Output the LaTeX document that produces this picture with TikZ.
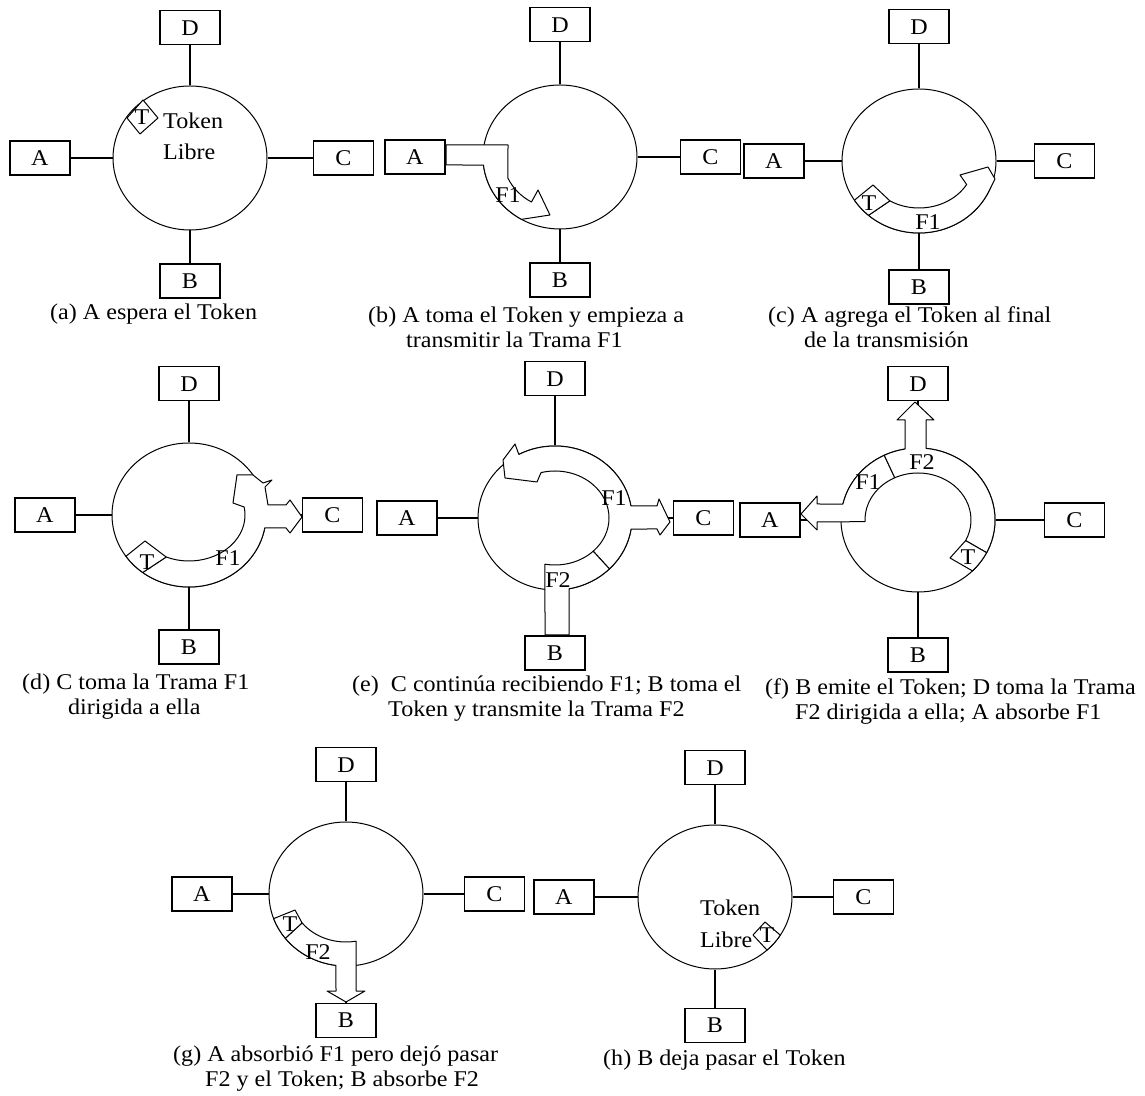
\documentclass[tikz,border=0pt]{standalone}
\usepackage{fontspec}
\setmainfont{Liberation Serif}[FakeStretch=1.07]
\usetikzlibrary{positioning, shapes.geometric}

\begin{document}
\begin{tikzpicture}[
    x=1pt, y=1pt,
    font=\fontsize{22.5}{25}\selectfont,
    ring/.style={ellipse, draw, line width=1pt, minimum width=154pt, minimum height=144pt, inner sep=0pt},
    station/.style={draw, line width=1.6pt, minimum width=60pt, minimum height=34pt, inner sep=0pt},
    link/.style={line width=1.6pt},
    frame/.style={draw, fill=white, line width=1pt, line join=round},
    token/.style={draw, fill=white, line width=1pt, line join=round},
    tag/.style={inner sep=0pt},
    caption/.style={anchor=west, align=left, inner sep=0pt}
]
\useasboundingbox (0,0) rectangle (1145,1095);

% -------------------------
% RINGS AND STATIONS
% -------------------------
\foreach \p/\x/\y/\dl/\dr/\du/\dd in {a/190/937/42/45/40/33, b/560/938/37/42/42/33,
    c/919/934/37/37/44/36, d/189/580/36/35/41/42, e/555/577/40/40/49/45,
    f/918/575/40/48/46/45, g/346/201/36/40/39/36, h/715/198/43/40/39/38}{
  \node[ring] (ring-\p) at (\x,\y) {};
  \node[station, left=\dl pt of ring-\p] (A-\p) {A};
  \node[station, right=\dr pt of ring-\p] (C-\p) {C};
  \node[station, above=\du pt of ring-\p] (D-\p) {D};
  \node[station, below=\dd pt of ring-\p] (B-\p) {B};
  \draw[link] (A-\p) -- (ring-\p) (C-\p) -- (ring-\p)
              (D-\p) -- (ring-\p) (B-\p) -- (ring-\p);
}

% -------------------------
% (a) free token
% -------------------------
\begin{scope}[shift={(ring-a.center)}]
\draw[token] (-47,58) -- (-32,40) -- (-50,24) -- (-63,40) -- cycle;
\node[tag] (T-a) at (-48,41) {T};
\node[tag, anchor=west, align=left, font=\fontsize{22.5}{31}\selectfont] (free-a) at (-27,22) {Token\\Libre};
\end{scope}

% -------------------------
% (b) A sends F1
% -------------------------
\begin{scope}[shift={(ring-b.center)}]
\draw[frame] (-114,12) -- (-52,12) -- (204:57pt and 52pt)
    arc[start angle=204, end angle=240, x radius=57pt, y radius=52pt]
    -- (-22,-33) -- (-10,-58) -- (240:77pt and 72pt)
    arc[start angle=240, end angle=186.4, x radius=77pt, y radius=72pt]
    -- (-114,-8) -- cycle;
\node[tag] (F1-b) at (-52,-38) {F1};
\end{scope}

% -------------------------
% (c) token after F1
% -------------------------
\begin{scope}[shift={(ring-c.center)}]
\draw[frame] (229:77pt and 72pt) -- (238:55pt and 47pt)
    arc[start angle=238, end angle=330, x radius=55pt, y radius=47pt]
    -- (41,-14) -- (69,-6) -- (76,-18) -- (-25:77pt and 72pt)
    arc[start angle=-25, end angle=-131, x radius=77pt, y radius=72pt] -- cycle;
\draw[token] (213:77pt and 72pt) -- (-46,-24) -- (238:55pt and 47pt) -- (229:77pt and 72pt)
    arc[start angle=229, end angle=213, x radius=77pt, y radius=72pt] -- cycle;
\node[tag] (T-c) at (-50,-42) {T};
\node[tag] (F1-c) at (9,-61) {F1};
\end{scope}

% -------------------------
% (d) C copies F1
% -------------------------
\begin{scope}[shift={(ring-d.center)}]
\draw[frame] (233:77pt and 72pt) -- (246:56pt and 46pt)
    arc[start angle=246, end angle=370, x radius=56pt, y radius=46pt]
    -- (44,12) -- (48,40) -- (64,40) -- (74,32) -- (83,35) -- (76,28) -- (79,10)
    -- (97,10) -- (101,15) -- (113,-2) -- (101,-18) -- (97,-13) -- (-10.4:77pt and 72pt)
    arc[start angle=-10.4, end angle=-127, x radius=77pt, y radius=72pt] -- cycle;
\draw[token] (215:77pt and 72pt) -- (-44,-26) -- (246:56pt and 46pt) -- (233:77pt and 72pt)
    arc[start angle=233, end angle=215, x radius=77pt, y radius=72pt] -- cycle;
\node[tag] (T-d) at (-42,-47) {T};
\node[tag] (F1-d) at (39,-43) {F1};
\end{scope}

% -------------------------
% (e) C keeps F1, B sends F2
% -------------------------
\begin{scope}[shift={(ring-e.center)}]
\draw[frame] (-45:54pt and 47pt)
    arc[start angle=-45, end angle=105, x radius=54pt, y radius=47pt]
    -- (-18,36) -- (-50,40) -- (-52,58) -- (-40,74) -- (118:77pt and 72pt)
    arc[start angle=118, end angle=9.6, x radius=77pt, y radius=72pt]
    -- (102,12) -- (104,19) -- (115,-4) -- (105,-17) -- (102,-11) -- (-8.8:77pt and 72pt)
    arc[start angle=-8.8, end angle=-45, x radius=77pt, y radius=72pt] -- cycle;
\draw[frame] (-10,-117) -- (259.3:54pt and 47pt)
    arc[start angle=259.3, end angle=315, x radius=54pt, y radius=47pt]
    -- (-45:77pt and 72pt)
    arc[start angle=-45, end angle=-79.5, x radius=77pt, y radius=72pt]
    -- (14,-117) -- cycle;
\node[tag] (F1-e) at (59,20) {F1};
\node[tag] (F2-e) at (3,-62) {F2};
\end{scope}

% -------------------------
% (f) B emits token, D takes F2, A absorbs F1
% -------------------------
\begin{scope}[shift={(ring-f.center)}]
\draw[frame] (116:53pt and 47pt)
    arc[start angle=116, end angle=182, x radius=53pt, y radius=47pt]
    -- (-101,-2) -- (-101,-10) -- (-117,6) -- (-101,24) -- (-101,16) -- (167.2:77pt and 72pt)
    arc[start angle=167.2, end angle=116, x radius=77pt, y radius=72pt] -- cycle;
\draw[frame] (-26:53pt and 47pt)
    arc[start angle=-26, end angle=116, x radius=53pt, y radius=47pt]
    -- (116:77pt and 72pt)
    arc[start angle=116, end angle=99.7, x radius=77pt, y radius=72pt]
    -- (-13,100) -- (-21,100) -- (-3,118) -- (16,100) -- (8,100) -- (84:77pt and 72pt)
    arc[start angle=84, end angle=-27, x radius=77pt, y radius=72pt] -- cycle;
\draw[token] (32,-38) -- (-26:53pt and 47pt) -- (-27:77pt and 72pt)
    arc[start angle=-27, end angle=-45, x radius=77pt, y radius=72pt] -- cycle;
\node[tag] (F1-f) at (-50,38) {F1};
\node[tag] (F2-f) at (4,58) {F2};
\node[tag] (T-f) at (50,-37) {T};
\end{scope}

% -------------------------
% (g) B takes F2
% -------------------------
\begin{scope}[shift={(ring-g.center)}]
\draw[frame] (218:77pt and 72pt) -- (217:55pt and 48pt)
    arc[start angle=217, end angle=280.5, x radius=55pt, y radius=48pt]
    -- (10,-97) -- (19,-97) -- (0,-108) -- (-19,-97) -- (-10,-97) -- (262.5:77pt and 72pt)
    arc[start angle=262.5, end angle=218, x radius=77pt, y radius=72pt] -- cycle;
\draw[token] (200:77pt and 72pt) -- (-51,-16) -- (217:55pt and 48pt) -- (218:77pt and 72pt)
    arc[start angle=218, end angle=200, x radius=77pt, y radius=72pt] -- cycle;
\node[tag] (T-g) at (-56,-30) {T};
\node[tag] (F2-g) at (-28,-58) {F2};
\end{scope}

% -------------------------
% (h) free token again
% -------------------------
\begin{scope}[shift={(ring-h.center)}]
\draw[token] (38,-38) -- (50,-25) -- (-32:77pt and 72pt)
    arc[start angle=-32, end angle=-47.5, x radius=77pt, y radius=72pt] -- cycle;
\node[tag] (T-h) at (52,-38) {T};
\node[tag, anchor=west, align=left, font=\fontsize{22.5}{32}\selectfont] (free-h) at (-15,-27) {Token\\Libre};
\end{scope}

% -------------------------
% CAPTIONS
% -------------------------
\node[caption] (cap-a) at (50,781) {(a) A espera el Token};
\node[caption] (cap-b) at (368,768) {(b) A toma el Token y empieza a\\\hspace*{38pt}transmitir la Trama F1};
\node[caption] (cap-c) at (768,768) {(c) A agrega el Token al final\\\hspace*{36pt}de la transmisión};
\node[caption] (cap-d) at (22,398) {(d) C toma la Trama F1\\\hspace*{46pt}dirigida a ella};
\node[caption] (cap-e) at (352,396) {(e)\ \ C continúa recibiendo F1; B toma el\\\hspace*{36pt}Token y transmite la Trama F2};
\node[caption] (cap-f) at (765,393) {(f) B emite el Token; D toma la Trama\\\hspace*{30pt}F2 dirigida a ella; A absorbe F1};
\node[caption] (cap-g) at (173,26) {(g) A absorbió F1 pero dejó pasar\\\hspace*{32pt}F2 y el Token; B absorbe F2};
\node[caption] (cap-h) at (603,35) {(h) B deja pasar el Token};

\end{tikzpicture}
\end{document}
